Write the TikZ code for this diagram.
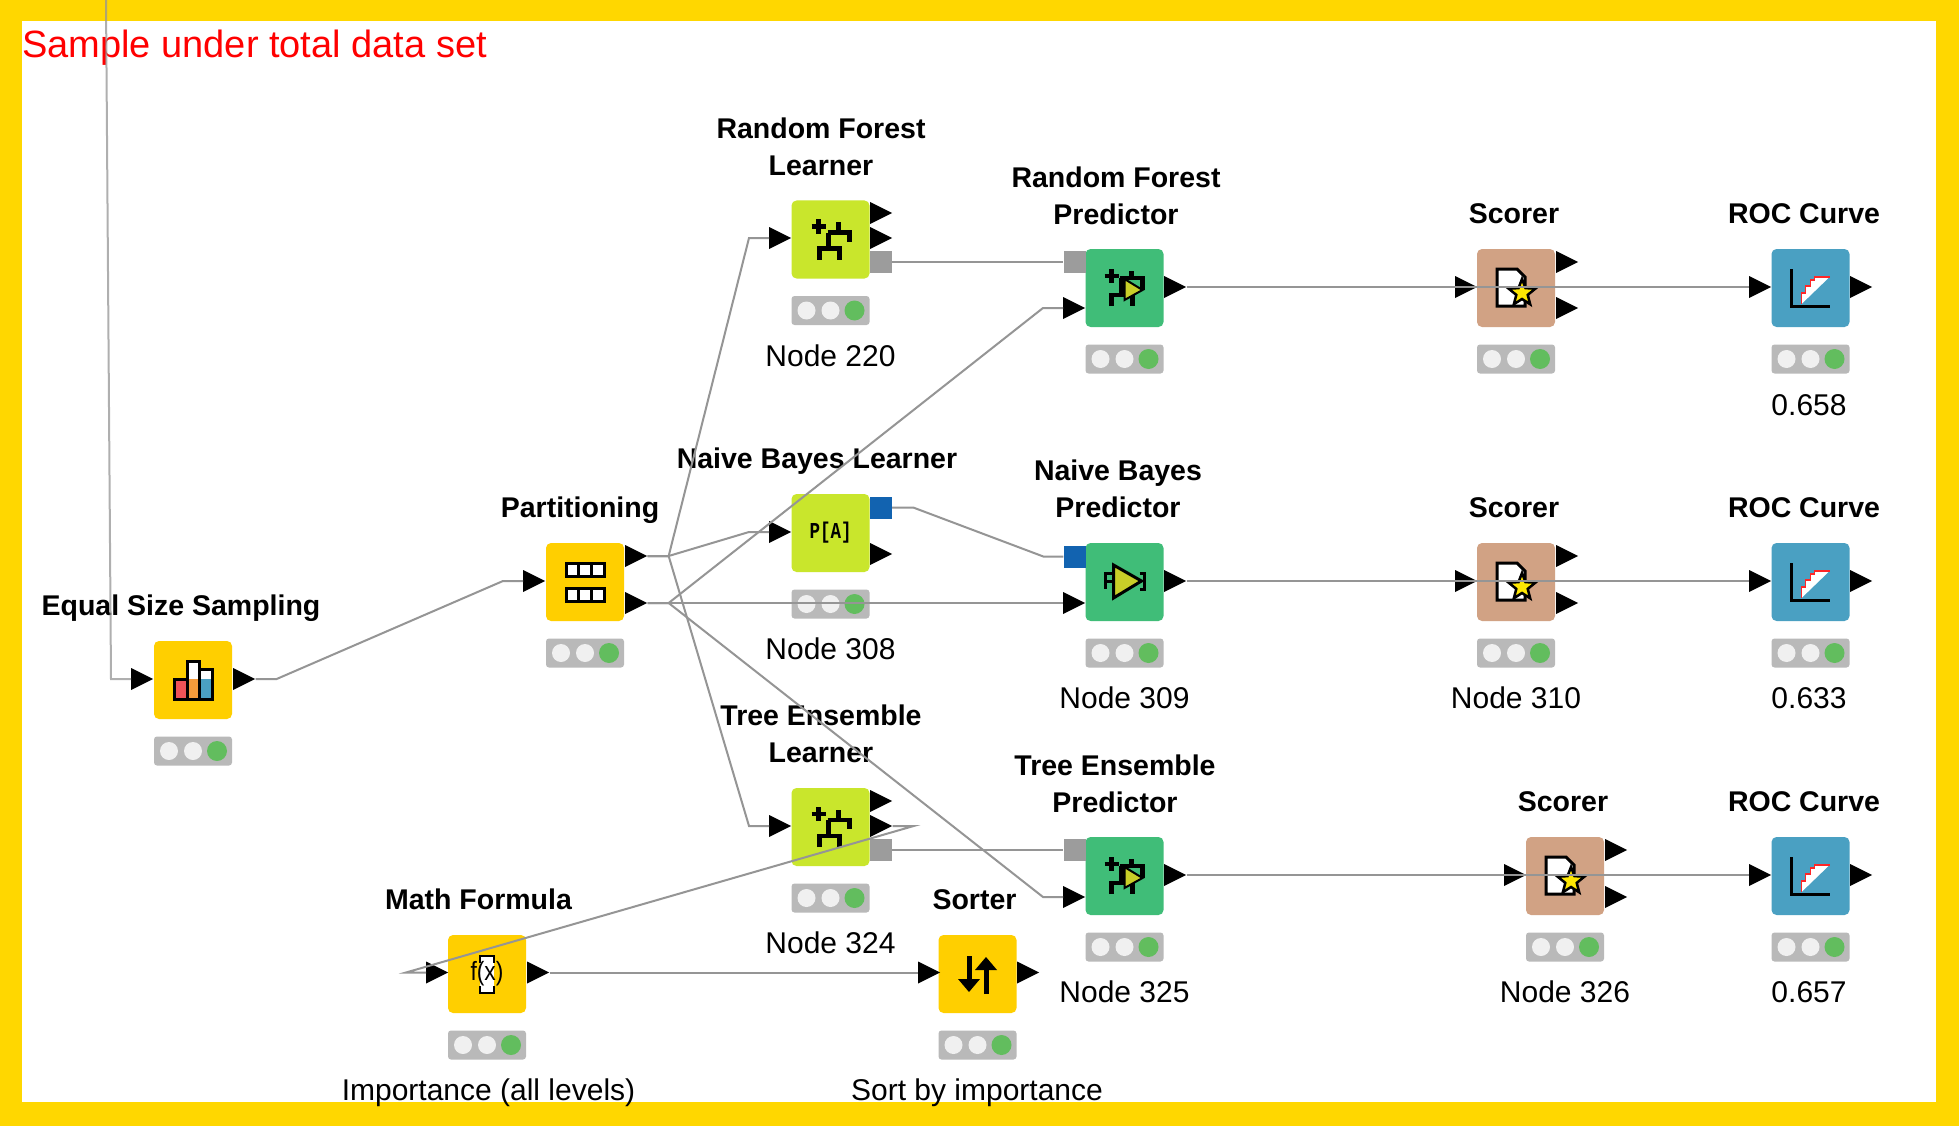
\documentclass[tikz,border=0pt]{standalone}
\usepackage{fontspec}
\setmainfont{Liberation Sans}
\newfontfamily\iconfont{Liberation Mono}
\usetikzlibrary{calc,shapes.geometric}

\definecolor{framegold}{HTML}{FFD700}
\definecolor{wiregray}{HTML}{959595}
\definecolor{manipyellow}{HTML}{FFCF00}
\definecolor{learnerlime}{HTML}{C9E62C}
\definecolor{predictgreen}{HTML}{40BD78}
\definecolor{scorertan}{HTML}{D1A284}
\definecolor{rocblue}{HTML}{4AA0C2}
\definecolor{modelgray}{HTML}{9C9C9C}
\definecolor{bayesblue}{HTML}{1263B0}
\definecolor{barGray}{HTML}{B9B9B9}
\definecolor{lampoff}{HTML}{F0F0F0}
\definecolor{lampon}{HTML}{62BD5E}
\definecolor{arrowlime}{HTML}{C9CE28}
\definecolor{barred}{HTML}{EF5358}
\definecolor{barorange}{HTML}{F59B3B}

\tikzset{
    body/.style={rectangle, rounded corners=5pt, minimum size=78pt, inner sep=0pt},
    lightbar/.style={rectangle, rounded corners=3pt, fill=barGray, minimum width=78pt, minimum height=29pt, inner sep=0pt},
    lamp/.style={circle, minimum size=18pt, inner sep=0pt, fill=lampoff},
    lampgreen/.style={circle, minimum size=20pt, inner sep=0pt, fill=lampon},
    port/.style={isosceles triangle, isosceles triangle apex angle=53, isosceles triangle stretches,
        minimum width=22pt, minimum height=22pt, inner sep=0pt, fill=black, anchor=lower side},
    modelport/.style={rectangle, minimum size=22pt, inner sep=0pt, fill=#1},
    title/.style={font=\fontsize{28.5}{37}\selectfont\bfseries, align=center, inner sep=0pt},
    caption/.style={font=\fontsize{30}{37}\selectfont, inner sep=0pt},
    wire/.style={wiregray, line width=2pt},
    kink/.style={wire, to path={-- ++(21,0) -- ($(\tikztotarget)+(-20,0)$) -- (\tikztotarget)}},
    glyph/.style={line width=4.5pt, black},
    pics/learnicon/.style={code={
        \draw[glyph] (-19,-13) -- (-5,-13) (-12,-20) -- (-12,-6);
        \draw[glyph] (-3,-7) -- (19,-7) -- (19,2) (8,-17) -- (8,-7) (-2,-7) -- (-2,9);
        \draw[glyph] (-11,20) -- (-11,9) -- (9,9) -- (9,20);
    }},
    pics/predicticon/.style={code={
        \draw[glyph] (-20,-12) -- (-6,-12) (-13,-19) -- (-13,-5);
        \draw[glyph] (-5,-10) -- (18,-10) -- (18,2) (7,-17) -- (7,-10) (-3,-10) -- (-3,7);
        \draw[glyph] (-13,18) -- (-13,7) -- (8,7) -- (8,18);
        \draw[black, line width=2pt, fill=arrowlime] (0,-9) -- (0,12) -- (18,2) -- cycle;
    }},
    pics/bayesicon/.style={code={
        \draw[black, line width=3pt] (-11,-9) -- (-19,-9) -- (-19,7) (-19,-1) -- (-11,-1);
        \draw[black, line width=3pt] (15,-9) -- (20,-9) -- (20,7) -- (15,7);
        \draw[black, line width=3pt, fill=arrowlime] (-11,-17) -- (-11,16) -- (17,-1) -- cycle;
    }},
    pics/scoreicon/.style={code={
        \draw[black, line width=3pt, fill=white] (-19,-19) -- (1,-19) -- (9,-11) -- (9,18) -- (-19,18) -- cycle;
        \draw[black, line width=2.5pt, fill=yellow!90!orange, shift={(6,5)}]
            (0,-14) -- (3.5,-4.9) -- (13.3,-4.3) -- (5.7,1.9) -- (8.2,11.3) -- (0,6)
            -- (-8.2,11.3) -- (-5.7,1.9) -- (-13.3,-4.3) -- (-3.5,-4.9) -- cycle;
    }},
    pics/rocicon/.style={code={
        \draw[black, line width=3pt] (-19,-19) -- (-19,18) -- (19,18);
        \fill[white] (-9,16) -- (-9,5) -- (-5,5) -- (-5,-2) -- (0,-2) -- (0,-8) -- (4,-8) -- (4,-11) -- (19,-11) -- cycle;
        \draw[red!85!white, line width=1.5pt] (-9,16) -- (-9,5) -- (-5,5) -- (-5,-2) -- (0,-2) -- (0,-8) -- (4,-8) -- (4,-11) -- (19,-11);
    }},
    pics/baricon/.style={code={
        \draw[black, line width=3pt, fill=white] (-6,19) rectangle (6.5,-19);
        \draw[black, line width=3pt, fill=white] (6.5,19) rectangle (19,-11);
        \fill[barorange] (-4.5,17.5) rectangle (5,-1);
        \fill[rocblue] (8,17.5) rectangle (17.5,-1);
        \draw[black, line width=3pt, fill=barred] (-18.5,19) rectangle (-6,-1);
    }},
    pics/tableicon/.style={code={
        \foreach \rowy in {-19,6} {
            \draw[black, line width=3pt, fill=white] (-19,\rowy) rectangle (19,\rowy+13);
            \draw[black, line width=3pt] (-6.3,\rowy) -- (-6.3,\rowy+13) (6.3,\rowy) -- (6.3,\rowy+13);
        }
    }},
    pics/bracketicon/.style={code={
        \fill[white] (-7,-18) rectangle (7,19);
        \draw[black, line width=2.5pt] (-7,-11) -- (-7,-18) -- (7,-18) -- (7,-11);
        \draw[black, line width=2.5pt] (-7,12) -- (-7,19) -- (7,19) -- (7,12);
    }},
    pics/sorticon/.style={code={
        \draw[black, line width=5pt] (-8.5,-18) -- (-8.5,8);
        \fill[black] (-19.5,5) -- (2.5,5) -- (-8.5,18) -- cycle;
        \draw[black, line width=5pt] (8.5,20) -- (8.5,-6);
        \fill[black] (-2.5,-4) -- (19.5,-4) -- (8.5,-17) -- cycle;
    }},
}

% body of a workflow node gets its status bar below it
\newcommand{\lights}[1]{
    \node[lightbar] (#1-bar) at ($(#1)+(0,71)$) {};
    \node[lamp] (#1-a) at ($(#1-bar)+(-24,0)$) {};
    \node[lamp] (#1-b) at (#1-bar) {};
    \node[lampgreen] (#1-c) at ($(#1-bar)+(24,0)$) {};
}

\begin{document}
\begin{tikzpicture}[x=1pt, y=-1pt]
    \useasboundingbox (0,0) rectangle (1959,1126);

    % yellow frame
    \fill[framegold] (0,0) rectangle (1959,1126);
    \fill[white] (22,21) rectangle (1936,1102);

    \node[anchor=west, text=red, font=\fontsize{38}{44}\selectfont, inner sep=0pt] (headline) at (22,48) {Sample under total data set};

    % sampling and partitioning
    \node[body, fill=manipyellow] (sampling) at (193,680) {};
    \node[body, fill=manipyellow] (parting) at (585,582) {};
    \pic at (sampling) {baricon};
    \pic at (parting) {tableicon};
    \lights{sampling}
    \lights{parting}

    % learners
    \node[body, fill=learnerlime] (rflearn) at (830.5,239.5) {};
    \node[body, fill=learnerlime] (nblearn) at (830.5,533) {};
    \node[body, fill=learnerlime] (telearn) at (830.5,827) {};
    \pic at (rflearn) {learnicon};
    \node[font=\iconfont\bfseries\fontsize{17.5}{20}\selectfont, inner sep=0pt] (nbsign) at (nblearn) {\scalebox{1}[1.3]{P[A]}};
    \pic at (telearn) {learnicon};
    \lights{rflearn}
    \lights{nblearn}
    \lights{telearn}

    % predictors
    \node[body, fill=predictgreen] (rfpred) at (1124.5,288) {};
    \node[body, fill=predictgreen] (nbpred) at (1124.5,582) {};
    \node[body, fill=predictgreen] (tepred) at (1124.5,876) {};
    \pic at (rfpred) {predicticon};
    \pic at (nbpred) {bayesicon};
    \pic at (tepred) {predicticon};
    \lights{rfpred}
    \lights{nbpred}
    \lights{tepred}

    % scorers
    \node[body, fill=scorertan] (scoreA) at (1516,288) {};
    \node[body, fill=scorertan] (scoreB) at (1516,582) {};
    \node[body, fill=scorertan] (scoreC) at (1565,876) {};
    \pic at (scoreA) {scoreicon};
    \pic at (scoreB) {scoreicon};
    \pic at (scoreC) {scoreicon};
    \lights{scoreA}
    \lights{scoreB}
    \lights{scoreC}

    % roc curves
    \node[body, fill=rocblue] (rocA) at (1810.5,288) {};
    \node[body, fill=rocblue] (rocB) at (1810.5,582) {};
    \node[body, fill=rocblue] (rocC) at (1810.5,876) {};
    \pic at (rocA) {rocicon};
    \pic at (rocB) {rocicon};
    \pic at (rocC) {rocicon};
    \lights{rocA}
    \lights{rocB}
    \lights{rocC}

    % math formula and sorter
    \node[body, fill=manipyellow] (mathf) at (487,974) {};
    \node[body, fill=manipyellow] (sorter) at (977.5,974) {};
    \pic at (mathf) {bracketicon};
    \node[font=\fontsize{24}{28}\selectfont, inner sep=0pt] (mathsign) at (mathf) {\scalebox{0.95}[1.1]{f(x)}};
    \pic at (sorter) {sorticon};
    \lights{mathf}
    \lights{sorter}

    % ports
    \node[port] (sampling-in) at (131,679) {};
    \node[port] (sampling-out) at (233,679) {};
    \node[port] (parting-in) at (523,581) {};
    \node[port] (parting-top) at (625,556) {};
    \node[port] (parting-low) at (625,603) {};

    \node[port] (rflearn-in) at (769,238) {};
    \node[port] (rflearn-a) at (870,213) {};
    \node[port] (rflearn-b) at (870,238) {};
    \node[modelport=modelgray] (rflearn-m) at (881,262) {};
    \node[modelport=modelgray] (rfpred-m) at (1074.5,262) {};
    \node[port] (rfpred-in) at (1063,308) {};
    \node[port] (rfpred-out) at (1164,287) {};

    \node[port] (nblearn-in) at (769,532) {};
    \node[modelport=bayesblue] (nblearn-m) at (881,507.5) {};
    \node[port] (nblearn-out) at (870,554) {};
    \node[modelport=bayesblue] (nbpred-m) at (1074.5,556.5) {};
    \node[port] (nbpred-in) at (1063,603) {};
    \node[port] (nbpred-out) at (1164,581) {};

    \node[port] (telearn-in) at (769,826) {};
    \node[port] (telearn-a) at (870,801) {};
    \node[port] (telearn-b) at (870,826) {};
    \node[modelport=modelgray] (telearn-m) at (881,850) {};
    \node[modelport=modelgray] (tepred-m) at (1074.5,850) {};
    \node[port] (tepred-in) at (1063,897) {};
    \node[port] (tepred-out) at (1164,875) {};

    \node[port] (scoreA-in) at (1455,287) {};
    \node[port] (scoreA-top) at (1556,262) {};
    \node[port] (scoreA-low) at (1556,308) {};
    \node[port] (scoreB-in) at (1455,581) {};
    \node[port] (scoreB-top) at (1556,556) {};
    \node[port] (scoreB-low) at (1556,603) {};
    \node[port] (scoreC-in) at (1504,875) {};
    \node[port] (scoreC-top) at (1605,850) {};
    \node[port] (scoreC-low) at (1605,897) {};

    \node[port] (rocA-in) at (1749,287) {};
    \node[port] (rocA-out) at (1850,287) {};
    \node[port] (rocB-in) at (1749,581) {};
    \node[port] (rocB-out) at (1850,581) {};
    \node[port] (rocC-in) at (1749,875) {};
    \node[port] (rocC-out) at (1850,875) {};

    \node[port] (mathf-in) at (426,972.5) {};
    \node[port] (mathf-out) at (527,972.5) {};
    \node[port] (sorter-in) at (918,972.5) {};
    \node[port] (sorter-out) at (1017,972.5) {};

    % titles over the nodes
    \node[title] (t-sampling) at (181,608) {Equal Size Sampling};
    \node[title] (t-parting) at (580,510) {Partitioning};
    \node[title] (t-rflearn) at (821,147) {Random Forest\\Learner};
    \node[title] (t-nblearn) at (817,461) {Naive Bayes Learner};
    \node[title] (t-telearn) at (821,734) {Tree Ensemble\\Learner};
    \node[title] (t-rfpred) at (1116,196) {Random Forest\\Predictor};
    \node[title] (t-nbpred) at (1118,489) {Naive Bayes\\Predictor};
    \node[title] (t-tepred) at (1115,784) {Tree Ensemble\\Predictor};
    \node[title] (t-scoreA) at (1514,214) {Scorer};
    \node[title] (t-scoreB) at (1514,508) {Scorer};
    \node[title] (t-scoreC) at (1563,802) {Scorer};
    \node[title] (t-rocA) at (1804,214) {ROC Curve};
    \node[title] (t-rocB) at (1804,508) {ROC Curve};
    \node[title] (t-rocC) at (1804,802) {ROC Curve};
    \node[title] (t-mathf) at (478.5,899) {Math Formula};
    \node[title] (t-sorter) at (974.5,900) {Sorter};

    % captions under the nodes
    \node[caption] (c-rflearn) at (830.5,356) {Node 220};
    \node[caption] (c-nblearn) at (830.5,649) {Node 308};
    \node[caption] (c-telearn) at (830.5,943) {Node 324};
    \node[caption] (c-nbpred) at (1124.5,698) {Node 309};
    \node[caption] (c-tepred) at (1124.5,992) {Node 325};
    \node[caption] (c-scoreB) at (1516,698) {Node 310};
    \node[caption] (c-scoreC) at (1565,992) {Node 326};
    \node[caption] (c-rocA) at (1809,405) {0.658};
    \node[caption] (c-rocB) at (1809,698) {0.633};
    \node[caption] (c-rocC) at (1809,992) {0.657};
    \node[caption] (c-mathf) at (488.5,1093) {Importance (all levels)};
    \node[caption] (c-sorter) at (977,1093) {Sort by importance};

    % connections
    \coordinate (topend) at (106,0);
    \draw[wire, opacity=0.75] (topend) -- (111,679) -- (sampling-in.lower side);
    \draw[kink] (sampling-out.apex) to (parting-in.lower side);

    \draw[kink] (parting-top.apex) to (rflearn-in.lower side);
    \draw[kink] (parting-top.apex) to (nblearn-in.lower side);
    \draw[kink] (parting-top.apex) to (telearn-in.lower side);
    \draw[kink] (parting-low.apex) to (rfpred-in.lower side);
    \draw[wire] (parting-low.apex) -- (nbpred-in.lower side);
    \draw[kink] (parting-low.apex) to (tepred-in.lower side);

    \draw[wire] (rflearn-m.east) -- (rfpred-m.west);
    \draw[kink] (nblearn-m.east) to (nbpred-m.west);
    \draw[wire] (telearn-m.east) -- (tepred-m.west);

    \draw[wire] (rfpred-out.apex) -- (rocA-in.lower side);
    \draw[wire] (nbpred-out.apex) -- (rocB-in.lower side);
    \draw[wire] (tepred-out.apex) -- (rocC-in.lower side);

    \draw[kink] (telearn-b.apex) to (mathf-in.lower side);
    \draw[wire] (mathf-out.apex) -- (sorter-in.lower side);
\end{tikzpicture}
\end{document}
